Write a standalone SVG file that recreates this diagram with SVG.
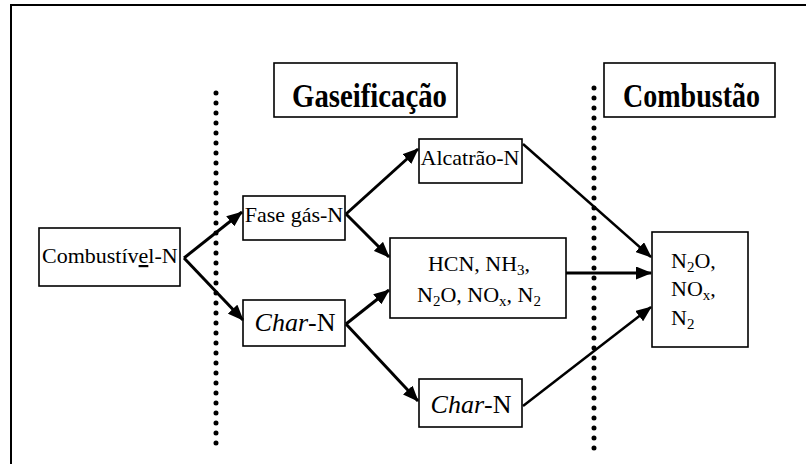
<svg xmlns="http://www.w3.org/2000/svg" width="806" height="464" viewBox="0 0 806 464">
<defs>
<marker id="ah" viewBox="0 0 16 13" refX="15" refY="6.5" markerWidth="16" markerHeight="13" markerUnits="userSpaceOnUse" orient="auto">
<path d="M0,0 L16,6.5 L0,13 z" fill="#000"/>
</marker>
<style>
.box{fill:#fff;stroke:#000;stroke-width:1.6}
.t{font-family:"Liberation Serif","Tinos","DejaVu Serif",serif;font-size:22px;fill:#000}
.h{font-family:"Liberation Serif","Tinos","DejaVu Serif",serif;font-size:34px;font-weight:bold;fill:#000}
.c{font-size:26px}
.sub{font-size:15px}
.arr{stroke:#000;stroke-width:3;fill:none;marker-end:url(#ah)}
.thin{stroke-width:2.5}
.dot{stroke:#000;stroke-width:5;stroke-linecap:round;stroke-dasharray:0 10;fill:none}
</style>
</defs>
<rect width="806" height="464" fill="#fff"/>
<path d="M11,464 V5 H806" fill="none" stroke="#000" stroke-width="2"/>
<g id="separators">
<line class="dot" x1="216" y1="93" x2="216" y2="446"/>
<line class="dot" x1="594" y1="88" x2="594" y2="456"/>
</g>
<g id="gaseificacao">
<rect class="box" x="274" y="63" width="183" height="54"/>
<text class="h" x="292" y="107" textLength="155" lengthAdjust="spacingAndGlyphs">Gaseificação</text>
</g>
<g id="combustao">
<rect class="box" x="604" y="63" width="171" height="54"/>
<text class="h" x="623" y="107" textLength="137" lengthAdjust="spacingAndGlyphs">Combustão</text>
</g>
<g id="combustivel">
<rect class="box" x="39" y="228" width="141" height="58"/>
<text class="t" x="42" y="263">Combustív<tspan text-decoration="underline">e</tspan>l-N</text>
</g>
<g id="fase-gas">
<rect class="box" x="243" y="196" width="102" height="44"/>
<text class="t" x="294" y="222" text-anchor="middle">Fase gás-N</text>
</g>
<g id="char-1">
<rect class="box" x="243" y="300" width="102" height="46"/>
<text class="t c" x="295" y="331" text-anchor="middle"><tspan font-style="italic">Char</tspan>-N</text>
</g>
<g id="alcatrao">
<rect class="box" x="419" y="139" width="103" height="44"/>
<text class="t" x="470" y="165" text-anchor="middle">Alcatrão-N</text>
</g>
<g id="gases">
<rect class="box" x="390" y="238" width="176" height="80"/>
<text class="t" x="479" y="271" text-anchor="middle">HCN, NH<tspan class="sub" dy="4">3</tspan><tspan dy="-4">,</tspan></text>
<text class="t" x="479" y="302" text-anchor="middle">N<tspan class="sub" dy="4">2</tspan><tspan dy="-4">O, NO</tspan><tspan class="sub" dy="4">x</tspan><tspan dy="-4">, N</tspan><tspan class="sub" dy="4">2</tspan></text>
</g>
<g id="char-2">
<rect class="box" x="419" y="379" width="103" height="48"/>
<text class="t c" x="471" y="413" text-anchor="middle"><tspan font-style="italic">Char</tspan>-N</text>
</g>
<g id="produtos">
<rect class="box" x="652" y="232" width="96" height="115"/>
<text class="t" x="671" y="268">N<tspan class="sub" dy="4">2</tspan><tspan dy="-4">O,</tspan></text>
<text class="t" x="671" y="296">NO<tspan class="sub" dy="4">x</tspan><tspan dy="-4">,</tspan></text>
<text class="t" x="671" y="325">N<tspan class="sub" dy="4">2</tspan></text>
</g>
<g id="connectors">
<line class="arr" x1="184" y1="258" x2="242" y2="212"/>
<line class="arr" x1="184" y1="258" x2="243" y2="320"/>
<line class="arr" x1="346" y1="214" x2="418" y2="149"/>
<line class="arr" x1="346" y1="214" x2="389" y2="257"/>
<line class="arr" x1="346" y1="324" x2="389" y2="290"/>
<line class="arr" x1="346" y1="324" x2="418" y2="401"/>
<line class="arr thin" x1="523" y1="144" x2="651" y2="257"/>
<line class="arr" x1="566" y1="273" x2="651" y2="273"/>
<line class="arr thin" x1="523" y1="406" x2="651" y2="307"/>
</g>
</svg>
